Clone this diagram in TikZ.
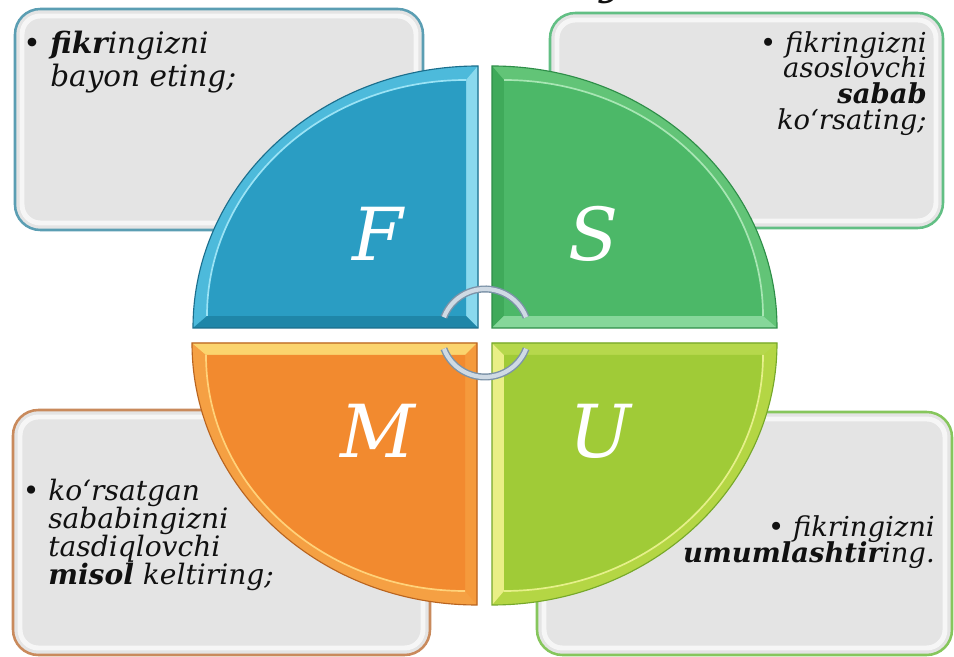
\documentclass[tikz,border=0pt]{standalone}
\usepackage{fontspec}
\setmainfont{DejaVu Serif}
\lineskiplimit=-40pt

% quadrant colours
\definecolor{mainf}{HTML}{2A9DC3}
\definecolor{bandf}{HTML}{4DBADB}
\definecolor{vertf}{HTML}{8AD9EE}
\definecolor{horzf}{HTML}{1F86A8}
\definecolor{hlf}{HTML}{9BE3F5}
\definecolor{linef}{HTML}{1B6E8C}
\definecolor{mains}{HTML}{4CB868}
\definecolor{bands}{HTML}{62C477}
\definecolor{verts}{HTML}{3FAA5A}
\definecolor{horzs}{HTML}{86D79A}
\definecolor{hls}{HTML}{A8E6B4}
\definecolor{lines}{HTML}{2E8E48}
\definecolor{mainm}{HTML}{F28A2F}
\definecolor{bandm}{HTML}{F5A043}
\definecolor{vertm}{HTML}{F59A3C}
\definecolor{horzm}{HTML}{FBD46E}
\definecolor{hlm}{HTML}{FFD27A}
\definecolor{linem}{HTML}{B9641F}
\definecolor{mainu}{HTML}{A0CB37}
\definecolor{bandu}{HTML}{B4D644}
\definecolor{vertu}{HTML}{E9EF86}
\definecolor{horzu}{HTML}{B6D84C}
\definecolor{hlu}{HTML}{E6F08A}
\definecolor{lineu}{HTML}{76A82A}
% boxes and rings
\definecolor{boxfill}{HTML}{E4E4E4}
\definecolor{edgetl}{HTML}{5B9EB3}
\definecolor{edgetr}{HTML}{62BF84}
\definecolor{edgebl}{HTML}{C98A5C}
\definecolor{edgebr}{HTML}{86C65C}
\definecolor{ringout}{HTML}{7C93A8}
\definecolor{ringin}{HTML}{CFDAE4}
\definecolor{ink}{HTML}{111111}

\tikzset{
  note/.style={text=ink, inner sep=0pt},
  letter/.style={text=white, inner sep=0pt, font=\fontsize{52}{52}\selectfont\itshape},
  ring/.style={line width=5pt, draw=ringout},
  ringcore/.style={line width=3pt, draw=ringin}
}

\begin{document}
\begin{tikzpicture}[x=0.025cm, y=0.025cm]
        \useasboundingbox (0,0) rectangle (954,657);
        \fill[white] (0,0) rectangle (954,657);

        % text boxes behind the circle
        \foreach \x/\y/\X/\Y/\c in {15/427/423/648/tl, 550/429/943/644/tr, 13/2/430/247/bl, 537/2/952/245/br} {
            \draw[line width=1.8pt, draw=edge\c, fill=boxfill, rounded corners=18pt] (\x,\y) rectangle (\X,\Y);
            \draw[white, opacity=.7, line width=3.5pt, rounded corners=13pt] ({\x+7},{\y+7}) rectangle ({\X-7},{\Y-7});
        }

        % four bevelled quadrants
        \foreach \cx/\cy/\a/\sx/\sy/\q in {478/329/90/-1/1/f, 492/329/0/1/1/s, 477/314/180/-1/-1/m, 492/314/270/1/-1/u} {
            \fill[band\q] (\cx,\cy) -- ++(\a:285 and 262) arc[start angle=\a, end angle=\a+90, x radius=285, y radius=262] -- cycle;
            \fill[vert\q] (\cx,\cy) -- ({\cx},{\cy+(\sy)*262}) -- ({\cx+(\sx)*12},{\cy+(\sy)*248}) -- ({\cx+(\sx)*12},{\cy+(\sy)*12}) -- cycle;
            \fill[horz\q] (\cx,\cy) -- ({\cx+(\sx)*285},{\cy}) -- ({\cx+(\sx)*271},{\cy+(\sy)*12}) -- ({\cx+(\sx)*12},{\cy+(\sy)*12}) -- cycle;
            \fill[main\q] ({\cx+(\sx)*12},{\cy+(\sy)*12}) -- ++(\a:259 and 236) arc[start angle=\a, end angle=\a+90, x radius=259, y radius=236] -- cycle;
            \draw[hl\q, line width=1.2pt] ({\cx+(\sx)*12},{\cy+(\sy)*12}) ++(\a:259 and 236) arc[start angle=\a, end angle=\a+90, x radius=259, y radius=236];
            \draw[line\q, line width=0.8pt] (\cx,\cy) -- ++(\a:285 and 262) arc[start angle=\a, end angle=\a+90, x radius=285, y radius=262] -- cycle;
        }

        \node[letter] (F) at (378,423) {F};
        \node[letter] (S) at (594,423) {S};
        \node[letter] (M) at (378,226) {M};
        \node[letter] (U) at (600,226) {U};

        % cycle arcs in the middle
        \coordinate (hub) at (485,324);
        \draw[ring] (hub) ++(21:44) arc[start angle=21, end angle=159, radius=44];
        \draw[ringcore] (hub) ++(21:44) arc[start angle=21, end angle=159, radius=44];
        \draw[ring] (hub) ++(201:44) arc[start angle=201, end angle=339, radius=44];
        \draw[ringcore] (hub) ++(201:44) arc[start angle=201, end angle=339, radius=44];

        % box texts
        \node[note, align=left, anchor=north west, font=\fontsize{21}{23}\selectfont\itshape] (fikr) at (50,626)
            {\llap{\textbullet\ }\textbf{fikr}ingizni\\bayon eting;};
        \node[note, align=right, anchor=north east, font=\fontsize{19.5}{18.4}\selectfont\itshape] (sabab) at (927,626)
            {\textbullet\ fikringizni\\asoslovchi\\\textbf{sabab}\\ko‘rsating;};
        \node[note, align=left, anchor=north west, font=\fontsize{20}{19.9}\selectfont\itshape] (misol) at (48,178)
            {\llap{\textbullet\ }ko‘rsatgan\\sababingizni\\tasdiqlovchi\\\textbf{misol} keltiring;};
        \node[note, align=right, anchor=north east, font=\fontsize{19.5}{18.5}\selectfont\itshape] (umum) at (935,142)
            {\textbullet\ fikringizni\\\textbf{umumlashtir}ing.};

        % cut-off title at the top edge
        \begin{scope}
            \clip (0,0) rectangle (954,657);
            \node[note, anchor=base, font=\fontsize{30}{30}\selectfont\bfseries\itshape] (title) at (612,662) {y};
        \end{scope}
\end{tikzpicture}
\end{document}
